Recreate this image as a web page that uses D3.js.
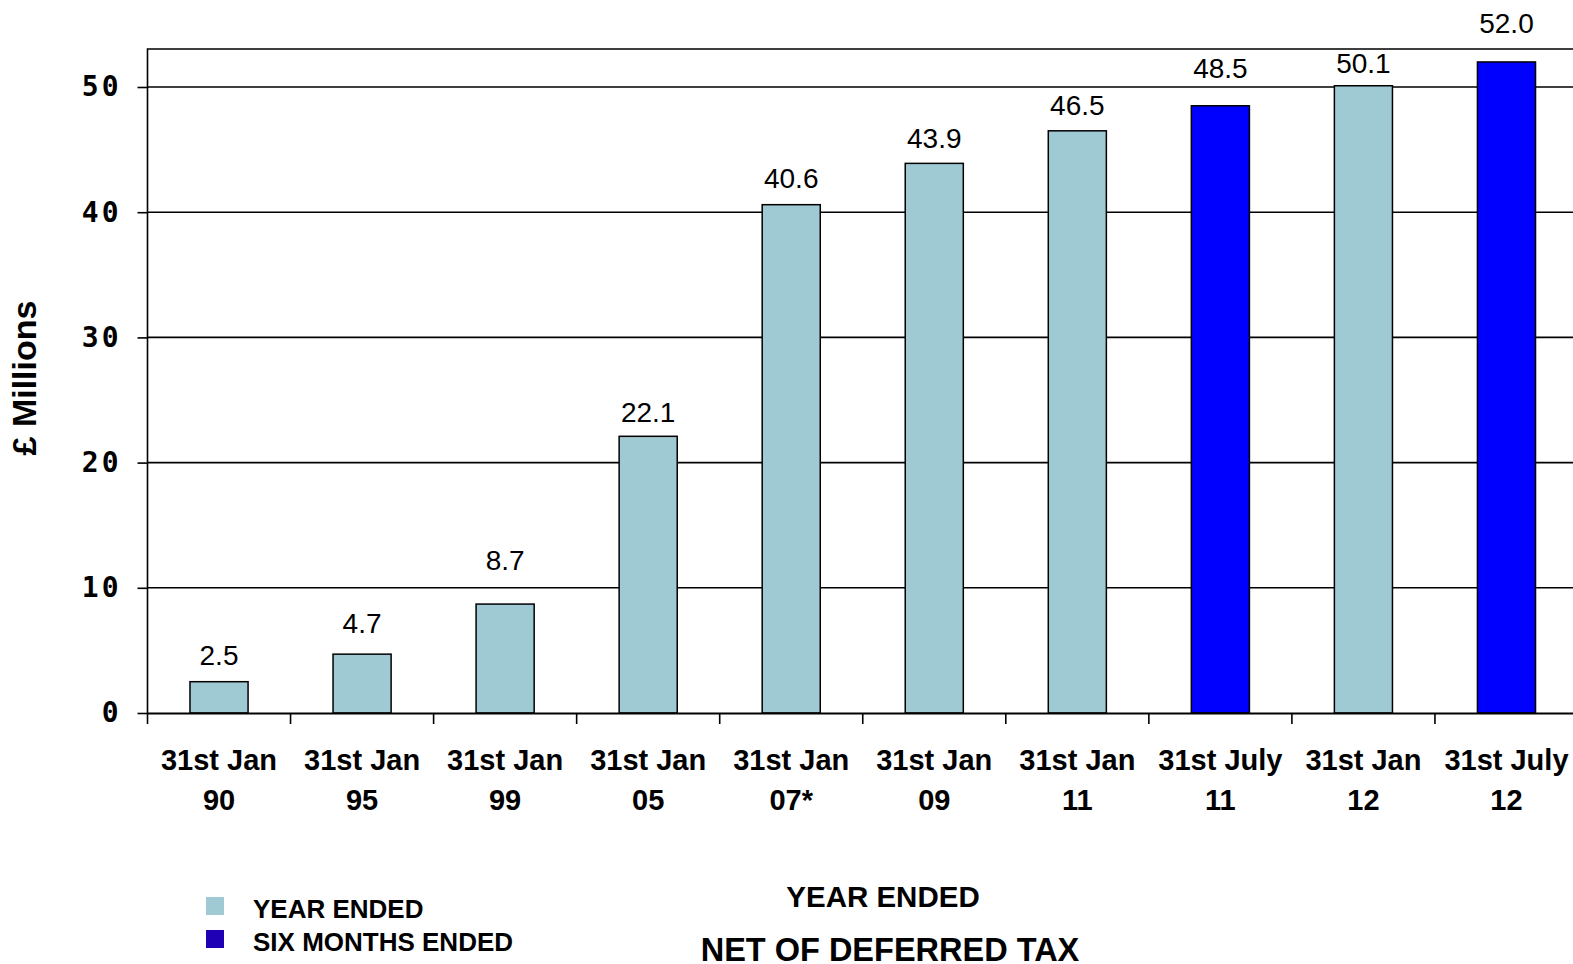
<!DOCTYPE html>
<html>
<head>
<meta charset="utf-8">
<script src="https://cdn.jsdelivr.net/npm/d3@7"></script>
<style>
  html, body { margin: 0; padding: 0; background: #fff; overflow: hidden; }
  svg { display: block; }
</style>
</head>
<body>
<div id="chart"></div>
<script>
// 数据
const categories = ['31st Jan|90', '31st Jan|95', '31st Jan|99', '31st Jan|05', '31st Jan|07*',
  '31st Jan|09', '31st Jan|11', '31st July|11', '31st Jan|12', '31st July|12']
const values = [2.5, 4.7, 8.7, 22.1, 40.6, 43.9, 46.5, 48.5, 50.1, 52.0]
const periods = ['year', 'year', 'year', 'year', 'year', 'year', 'year', 'six', 'year', 'six']
const yTicks = [0, 10, 20, 30, 40, 50]
const legendItems = [
  { key: 'year', label: 'YEAR ENDED', swatch: '#a0cad3' },
  { key: 'six', label: 'SIX MONTHS ENDED', swatch: '#1f00b5' }
]

const width = 1573
const height = 964
const plot = { left: 147.5, right: 1578, top: 49, bottom: 713 }
const barColor = { year: '#a0cad3', six: '#0000ff' }
// 数值标签距柱顶的距离（原图中各标签位置不一）
const labelGap = [17, 21, 34, 14, 17, 15, 16, 28, 13, 29]
const sans = 'Liberation Sans, Arial, Helvetica, sans-serif'

const svg = d3.select('#chart')
  .append('svg')
  .attr('width', width)
  .attr('height', height)

// 比例尺
const x = d3.scaleBand()
  .domain(categories)
  .range([plot.left, plot.right])
  .paddingInner(0.594)
  .paddingOuter(0.297)

const y = d3.scaleLinear()
  .domain([0, 50])
  .range([plot.bottom, 87])

// 网格线
svg.append('g')
  .selectAll('line')
  .data(yTicks.filter(d => d > 0))
  .enter()
  .append('line')
  .attr('x1', plot.left)
  .attr('x2', plot.right)
  .attr('y1', d => y(d))
  .attr('y2', d => y(d))
  .attr('stroke', '#000')
  .attr('stroke-width', 1.6)

// 边框
svg.append('path')
  .attr('d', `M${plot.left},${plot.bottom}V${plot.top}H${plot.right}`)
  .attr('fill', 'none')
  .attr('stroke', '#000')
  .attr('stroke-width', 1.6)

// 柱子
svg.append('g')
  .selectAll('rect')
  .data(values)
  .enter()
  .append('rect')
  .attr('x', (d, i) => x(categories[i]))
  .attr('width', x.bandwidth())
  .attr('y', d => y(d))
  .attr('height', d => y(0) - y(d))
  .attr('fill', (d, i) => barColor[periods[i]])
  .attr('stroke', '#000')
  .attr('stroke-width', 1.5)

// 数值标签
svg.append('g')
  .selectAll('text')
  .data(values)
  .enter()
  .append('text')
  .attr('x', (d, i) => x(categories[i]) + x.bandwidth() / 2)
  .attr('y', (d, i) => y(d) - labelGap[i])
  .attr('text-anchor', 'middle')
  .attr('font-family', sans)
  .attr('font-size', 28)
  .attr('fill', '#000')
  .text(d => d.toFixed(1))

// y轴
const yAxis = svg.append('g')
  .attr('transform', `translate(${plot.left},0)`)
  .call(d3.axisLeft(y).tickValues(yTicks).tickSize(10).tickPadding(16))
yAxis.select('.domain').remove()
yAxis.selectAll('.tick line').attr('stroke', '#000').attr('stroke-width', 1.6)
yAxis.selectAll('.tick text')
  .attr('font-family', 'DejaVu Sans Mono, monospace')
  .attr('font-weight', 'bold')
  .attr('font-size', 28)
  .attr('letter-spacing', 3)
  .attr('fill', '#000')

// x轴
const xAxis = svg.append('g')
  .attr('transform', `translate(0,${plot.bottom})`)
  .call(d3.axisBottom(x).tickSize(0).tickFormat(''))
xAxis.select('.domain')
  .attr('stroke', '#000')
  .attr('stroke-width', 1.8)
xAxis.selectAll('.tick').remove()

// x轴刻度线（位于分类之间）
svg.append('g')
  .selectAll('line')
  .data(categories)
  .enter()
  .append('line')
  .attr('x1', d => x(d) - x.step() * x.paddingOuter())
  .attr('x2', d => x(d) - x.step() * x.paddingOuter())
  .attr('y1', plot.bottom)
  .attr('y2', plot.bottom + 11)
  .attr('stroke', '#000')
  .attr('stroke-width', 1.6)

// x轴文字（两行）
const xLabels = svg.append('g')
  .selectAll('text')
  .data(categories)
  .enter()
  .append('text')
  .attr('text-anchor', 'middle')
  .attr('font-family', sans)
  .attr('font-weight', 'bold')
  .attr('font-size', 29)
  .attr('fill', '#000')
xLabels.each(function (d) {
  const parts = d.split('|')
  const cx = x(d) + x.bandwidth() / 2
  d3.select(this).selectAll('tspan')
    .data(parts)
    .enter()
    .append('tspan')
    .attr('x', cx)
    .attr('y', (p, i) => 770 + i * 40)
    .text(p => p)
})

// y轴标题
svg.append('text')
  .attr('transform', 'translate(36,378) rotate(-90)')
  .attr('text-anchor', 'middle')
  .attr('font-family', sans)
  .attr('font-weight', 'bold')
  .attr('font-size', 34)
  .attr('fill', '#000')
  .text('£ Millions')

// x轴标题
svg.append('text')
  .attr('x', 883)
  .attr('y', 907)
  .attr('text-anchor', 'middle')
  .attr('font-family', sans)
  .attr('font-weight', 'bold')
  .attr('font-size', 29.5)
  .attr('fill', '#000')
  .text('YEAR ENDED')

svg.append('text')
  .attr('x', 890)
  .attr('y', 961)
  .attr('text-anchor', 'middle')
  .attr('font-family', sans)
  .attr('font-weight', 'bold')
  .attr('font-size', 32.5)
  .attr('fill', '#000')
  .text('NET OF DEFERRED TAX')

// 图例
const legend = svg.append('g')
  .selectAll('g')
  .data(legendItems)
  .enter()
  .append('g')
  .attr('transform', (d, i) => `translate(206,${897 + i * 33})`)
legend.append('rect')
  .attr('width', 18)
  .attr('height', 18)
  .attr('fill', d => d.swatch)
legend.append('text')
  .attr('x', 47)
  .attr('y', 21)
  .attr('font-family', sans)
  .attr('font-weight', 'bold')
  .attr('font-size', 26)
  .attr('fill', '#000')
  .text(d => d.label)
</script>
</body>
</html>
